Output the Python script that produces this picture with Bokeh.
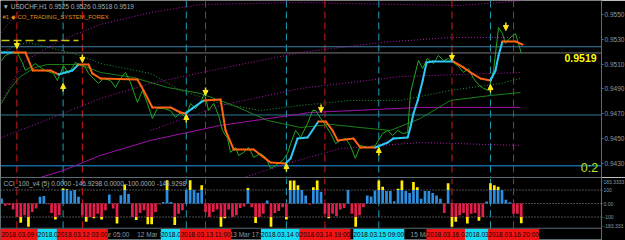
from bokeh.plotting import figure
from bokeh.layouts import column
from bokeh.models import (Range1d, FixedTicker, PrintfTickFormatter, Span, Label,
                          ColumnDataSource, Arrow, NormalHead)
from bokeh.embed import file_html
from bokeh.resources import INLINE

# ---------------- data ----------------
symbol_title = "\u25bc USDCHF,H1  0.9525 0.9526 0.9518 0.9519"
system_title = "#1 \u25c6 CO_TRADING_SYSTEM_FOREX"
cci_title = "CCI_100_v4 (5) 0.0000 -146.9298 0.0000 -100.0000 -146.9298"
last_price = 0.9519
ask_price = 0.9524
hline_prices = [0.9469, 0.9428]
hline_colors = ["#2a7d96", "#1e9be6"]
target_price = 0.9529
target_bars = [0, 20]
score_text = "0:2"
price_ticks = [0.9430, 0.9450, 0.9470, 0.9490, 0.9510, 0.9530, 0.9550]
cci_max, cci_min = 183.3333, -183.3333
cci_tick_labels = ["183.3333", "100", "0.00", "-100", "-183.333"]
cci_levels = [100, 0, -100]

sell_bars = [4, 21, 53, 84, 117, 133]
sell_times = ["2018.03.09 08:00", "2018.03.12 03:00", "2018.03.13 11:00",
              "2018.03.14 19:00", "2018.03.16 04:00", "2018.03.16 20:00"]
buy_bars = [16, 48, 74, 98, 127]
buy_times = ["2018.03.09 20:00", "2018.03.13 06:00", "2018.03.14 08:00",
             "2018.03.15 09:00", "2018.03.16 14:00"]
time_tick_bars = [23, 35, 59, 106]
time_tick_labels = ["12 Mar 05:00", "12 Mar 17:00", "13 Mar 17:00", "15 Mar 16:00"]

down_arrow_bars = [4, 21, 53, 83, 117, 131]
down_arrow_prices = [0.95258, 0.95146, 0.94880, 0.94743, 0.95162, 0.95403]
up_arrow_bars = [16, 48, 74, 98, 127]
up_arrow_prices = [0.94912, 0.94662, 0.94267, 0.94396, 0.94904]

cci = [37, -17, -12, -45, -100, -143, -87, -172, -62, -37,
       50, 55, -5, -70, -118, -87, 112, 105, 95, 100,
       50, -87, -135, -100, -110, -75, -118, -50, 67, -37,
       -148, 62, 140, 70, -100, -123, -70, -50, -153, -153,
       -62, -5, 12, 173, 12, -160, -75, -50, 100, 173,
       100, 80, 135, -62, -100, -62, -45, -172, -110, -45,
       -100, -87, -33, -22, 115, -27, -145, -100, -75, 22,
       -172, -70, -55, -27, -118, 170, 170, 135, 100, 60,
       -7, 120, 170, 87, -75, -110, -75, -95, -45, -33,
       100, -75, -172, -87, -25, 60, 52, 97, 170, 125,
       92, 92, 17, 110, 170, 92, 77, 160, 120, 35,
       92, 92, 77, 60, 35, -70, 150, -172, -135, -87,
       -70, -148, -75, -70, -127, -100, 15, 150, 135, 125,
       100, 27, 10, -75, -75, -146.93]

close_bar = [
    0.0, 1.0, 2.9, 4.2, 5.5, 6.2, 7.5, 8.8, 10.1, 11.4,
    13.5, 14.5, 15.3, 16.1, 17.4, 18.4, 19.2, 20.5, 21.8, 22.6,
    23.9, 25.2, 26.5, 28.3, 29.6, 30.9, 32.2, 33.5, 35.3, 36.6,
    37.9, 39.2, 40.5, 42.1, 43.9, 45.2, 46.5, 47.8, 49.1, 50.4,
    51.7, 52.7, 53.8, 55.1, 56.4, 57.4, 58.7, 59.5, 60.8, 61.6,
    62.9, 64.2, 65.5, 67.3, 68.6, 69.9, 71.2, 73.0, 74.3, 75.1,
    76.4, 77.7, 79.5, 80.8, 81.6, 82.9, 84.2, 85.5, 86.8, 88.1,
    89.4, 90.6, 91.9, 93.2, 95.3, 97.1, 99.0, 100.3, 101.6, 102.9,
    104.2, 105.5, 106.2, 107.0, 108.3, 109.4, 110.6, 112.2, 113.5, 114.8,
    116.1, 117.4, 118.7, 120.0, 121.3, 122.6, 123.9, 125.2, 126.5, 127.8,
    129.1, 130.1, 130.9, 132.2, 133.5, 135.0]
close_price = [
    0.95129, 0.95170, 0.95194, 0.95186, 0.95105, 0.95049, 0.95073, 0.95105, 0.95073, 0.95049,
    0.95025, 0.94968, 0.95025, 0.95089, 0.95025, 0.95073, 0.95113, 0.95089, 0.95073, 0.95025,
    0.94984, 0.94944, 0.94984, 0.94968, 0.94912, 0.94984, 0.95033, 0.94952, 0.94791, 0.94888,
    0.94783, 0.94662, 0.94743, 0.94743, 0.94726, 0.94670, 0.94710, 0.94670, 0.94783, 0.94743,
    0.94791, 0.94863, 0.94726, 0.94783, 0.94686, 0.94565, 0.94501, 0.94388, 0.94428, 0.94364,
    0.94388, 0.94428, 0.94348, 0.94380, 0.94348, 0.94259, 0.94283, 0.94323, 0.94380, 0.94460,
    0.94565, 0.94509, 0.94622, 0.94726, 0.94726, 0.94662, 0.94606, 0.94541, 0.94460, 0.94485,
    0.94501, 0.94444, 0.94340, 0.94444, 0.94428, 0.94444, 0.94541, 0.94565, 0.94525, 0.94565,
    0.94541, 0.94549, 0.94863, 0.94968, 0.95129, 0.95065, 0.95146, 0.95105, 0.95170, 0.95129,
    0.95146, 0.95113, 0.95081, 0.95033, 0.95065, 0.94984, 0.94936, 0.94904, 0.94888, 0.95049,
    0.95395, 0.95347, 0.95266, 0.95315, 0.95347, 0.95190]

trend_bar = [0, 3.1, 6.2, 8.1, 12.7, 14.8, 16.6, 18.4, 20.0, 22.6,
             23.6, 25.7, 35.3, 36.9, 39.2, 43.9, 46.5, 47.8, 49.6, 51.7,
             52.7, 56.9, 58.2, 60.3, 65.5, 67.8, 69.9, 73.8, 75.1, 76.9,
             79.5, 82.3, 84.2, 86.0, 87.3, 91.4, 93.2, 97.1, 100.3, 101.8,
             105.5, 106.2, 107.0, 108.1, 109.4, 110.4, 112.0, 117.4, 120.0, 121.8,
             124.4, 127.0, 128.3, 129.1, 130.1, 133.5, 135.3]
trend_price = [0.95194, 0.95194, 0.95194, 0.95049, 0.95049, 0.95017, 0.95033, 0.95049, 0.95097, 0.95097,
               0.95025, 0.94984, 0.94976, 0.94888, 0.94751, 0.94751, 0.94710, 0.94702, 0.94743, 0.94791,
               0.94807, 0.94815, 0.94565, 0.94412, 0.94412, 0.94356, 0.94307, 0.94299, 0.94340, 0.94501,
               0.94509, 0.94638, 0.94638, 0.94565, 0.94485, 0.94501, 0.94428, 0.94428, 0.94468, 0.94501,
               0.94509, 0.94589, 0.94702, 0.94807, 0.94968, 0.95113, 0.95121, 0.95121, 0.95073, 0.95033,
               0.94984, 0.94968, 0.95049, 0.95170, 0.95283, 0.95283, 0.95258]
trend_dir = list("UUDDDDUUUDDDDDDDDDUUUDDDDDDDUUUUDDDDDDUUUUUUUUUUDDDDUUUDD")[:57]

fast_ma_bar = [0, 2.3, 4.9, 8.8, 11.9, 20.5, 25.7, 34.3, 43.1, 51.7,
               60.3, 69.1, 77.7, 85.5, 93.2, 101.0, 108.8, 116.6, 127.0, 134.8]
fast_ma_price = [0.94783, 0.94904, 0.95000, 0.95073, 0.95097, 0.95097, 0.95033, 0.94992, 0.94912, 0.94863,
                 0.94767, 0.94646, 0.94589, 0.94614, 0.94589, 0.94565, 0.94662, 0.94807, 0.94847, 0.94871]
upper_green_bar = [0, 3.6, 6.8, 11.4, 20.5, 25.7, 38.7, 46.5, 56.9, 67.3, 77.7, 90.6, 103.6, 116.6, 129.6, 134.8]
upper_green_price = [0.95186, 0.95250, 0.95274, 0.95242, 0.95170, 0.95105, 0.95025, 0.94888, 0.94783,
                     0.94726, 0.94767, 0.94807, 0.94807, 0.94888, 0.94944, 0.94984]

slow_ma_bar = [7.5, 16.1, 25.7, 38.7, 56.9, 80.3, 108.8, 134.8]
slow_ma_price = [0.94162, 0.94243, 0.94364, 0.94485, 0.94606, 0.94710, 0.94751, 0.94751]
band3_bar = [0, 6.2, 15.3, 25.7, 38.7, 51.7, 77.7, 103.6, 119.2, 129.6, 135]
band3_price = [0.94807, 0.95129, 0.95291, 0.95420, 0.95516, 0.95581, 0.95597, 0.95581, 0.95573, 0.95597, 0.95613]
band2_bar = [0, 12.7, 25.7, 38.7, 56.9, 77.7, 98.4, 116.6, 135]
band2_price = [0.94509, 0.94662, 0.94823, 0.94944, 0.95065, 0.95194, 0.95274, 0.95315, 0.95315]
band1_bar = [38.7, 56.9, 77.7, 103.6, 135]
band1_price = [0.94565, 0.94767, 0.94904, 0.95000, 0.95033]
bandm1_bar = [62.1, 75.1, 88.1, 108.8, 135]
bandm1_price = [0.94178, 0.94307, 0.94420, 0.94468, 0.94444]
band4_bar = [0, 2.9, 6.0, 7.5]
band4_price = [0.95355, 0.95468, 0.95573, 0.95613]

# ---------------- layout constants ----------------
FONT = "Liberation Sans"
X0, X1 = -0.26, 155.84
P0, P1 = 0.94186, 0.95613
TOP_H, BOT_H, FRAME_W = 177, 63, 601
C0, C1 = -274.0, 192.6
cpx = (C1 - C0) / BOT_H
xpx = (X1 - X0) / FRAME_W
AXIS_COL = "#5b6b72"
LBL_COL = "#8c9aa0"
RED, CYAN = "#d81a1a", "#1d9fb4"
ppx = (P1 - P0) / TOP_H
BOX_W = 51


def style_axis(ax, size="6.5px", tick=2):
    ax.major_label_text_font = FONT
    ax.major_label_text_font_size = size
    ax.major_label_text_color = LBL_COL
    ax.major_tick_out = tick
    ax.major_tick_in = 0
    ax.minor_tick_out = 0
    ax.minor_tick_in = 0
    ax.major_tick_line_color = AXIS_COL
    ax.axis_line_color = AXIS_COL
    ax.major_label_standoff = 1


# ---------------- price panel ----------------
top = figure(frame_width=FRAME_W, frame_height=TOP_H, x_range=Range1d(X0, X1), y_range=Range1d(P0, P1),
             output_backend="svg", toolbar_location=None, x_axis_location=None, y_axis_location="right",
             background_fill_color="black", border_fill_color="black", outline_line_color=None,
             min_border=0, min_border_right=24)
top.xgrid.visible = False
top.ygrid.visible = False
ax = top.yaxis[0]
ax.ticker = FixedTicker(ticks=price_ticks)
ax.formatter = PrintfTickFormatter(format="%.4f")
style_axis(ax)

for b in sell_bars:
    top.add_layout(Span(location=b, dimension="height", line_color=RED, line_dash="7 4", line_width=1, level="underlay"))
for b in buy_bars:
    top.add_layout(Span(location=b, dimension="height", line_color=CYAN, line_dash="7 4", line_width=1, level="underlay"))
for pr, col in zip(hline_prices, hline_colors):
    top.add_layout(Span(location=pr, dimension="width", line_color=col, line_width=1, level="underlay"))
top.add_layout(Span(location=ask_price, dimension="width", line_color="#3f7fa8", line_width=1, level="underlay"))
top.add_layout(Span(location=last_price, dimension="width", line_color="#7a7a7a", line_width=1, level="underlay"))

# bands
MAG = "#b015b0"
for bxs, bys in [(band4_bar, band4_price), (band3_bar, band3_price), (band2_bar, band2_price),
                 (band1_bar, band1_price), (bandm1_bar, bandm1_price)]:
    top.line(bxs, bys, line_color=MAG, line_width=1, line_dash="1 2")
top.line(slow_ma_bar, slow_ma_price, line_color="#a010a8", line_width=1)
top.line(upper_green_bar, upper_green_price, line_color="#1f9a3a", line_width=1, line_dash="1 2")
top.line(fast_ma_bar, fast_ma_price, line_color="#1c7f1c", line_width=1)
top.line(close_bar, close_price, line_color="#22a822", line_width=1)

# trend line
seg = ColumnDataSource(dict(
    x0=trend_bar[:-1], y0=trend_price[:-1], x1=trend_bar[1:], y1=trend_price[1:],
    c=["#2ec8f5" if d == "U" else "#ff6410" for d in trend_dir[1:]]))
top.segment("x0", "y0", "x1", "y1", source=seg, line_color="c", line_width=2, line_cap="round")

top.segment(x0=[target_bars[0]], y0=[target_price], x1=[target_bars[1]], y1=[target_price],
            line_color="#c8c814", line_width=1.5, line_dash="8 4")

# arrows
dsrc = ColumnDataSource(dict(x=down_arrow_bars, ys=[p + 4 * ppx for p in down_arrow_prices],
                             ye=[p - 4 * ppx for p in down_arrow_prices]))
usrc = ColumnDataSource(dict(x=up_arrow_bars, ys=[p - 4 * ppx for p in up_arrow_prices],
                             ye=[p + 4 * ppx for p in up_arrow_prices]))
for src in (dsrc, usrc):
    top.add_layout(Arrow(x_start="x", y_start="ys", x_end="x", y_end="ye", source=src,
                         line_color="#ffe81a", line_width=1.5,
                         end=NormalHead(size=5, fill_color="#ffe81a", line_color="#ffe81a")))

# texts
top.add_layout(Label(x=2, y=TOP_H - 6, x_units="screen", y_units="screen", text=symbol_title,
                     text_font=FONT, text_font_size="6.5px", text_color="#a8b0b4", text_baseline="middle"))
top.add_layout(Label(x=2, y=TOP_H - 16, x_units="screen", y_units="screen", text=system_title,
                     text_font=FONT, text_font_size="6px", text_color="#e08a10", text_baseline="middle"))
top.add_layout(Label(x=150.4, y=last_price, y_offset=-1, text=f"{last_price:.4f}", text_font=FONT,
                     text_font_size="10.5px", text_font_style="bold", text_color="#ffff00",
                     text_align="center", text_baseline="top"))
top.add_layout(Label(x=152.7, y=hline_prices[1], y_offset=-2, text=score_text, text_font=FONT,
                     text_font_size="12.5px", text_color="#b4e61e", text_align="center", text_baseline="middle"))
top.add_layout(Label(x=X1, y=ask_price, x_offset=1, text=f"{ask_price:.4f}", text_font=FONT,
                     text_font_size="6.5px", text_color="white", background_fill_color="#3f7fa8",
                     text_baseline="middle"))
top.add_layout(Label(x=X1, y=last_price, x_offset=1, text=f"{last_price:.4f}", text_font=FONT,
                     text_font_size="6.5px", text_color="#d0d0d0", background_fill_color="#555555",
                     text_baseline="middle"))

# ---------------- CCI panel ----------------
bot = figure(frame_width=FRAME_W, frame_height=BOT_H, x_range=top.x_range, y_range=Range1d(C0, C1),
             output_backend="svg", toolbar_location=None, x_axis_location=None, y_axis_location="right",
             background_fill_color="black", border_fill_color="black", outline_line_color=AXIS_COL,
             min_border=0, min_border_right=24)
bot.xgrid.visible = False
bot.ygrid.visible = False
bx = bot.yaxis[0]
# label positions: extreme labels kept inside the panel, as MT4 does
label_pos = [C1 - 4 * cpx, 100, 0, -100, cci_min + 2 * cpx]
bx.ticker = FixedTicker(ticks=label_pos)
bx.major_label_overrides = {t: l for t, l in zip(label_pos, cci_tick_labels)}
style_axis(bx, size="5px", tick=1)

for lv in cci_levels:
    bot.add_layout(Span(location=lv, dimension="width", line_color="#9a9a9a", line_dash="1 2",
                        line_width=1, level="underlay"))
bot.segment(x0=sell_bars, y0=[cci_min] * len(sell_bars), x1=sell_bars, y1=[cci_max] * len(sell_bars),
            line_color=RED, line_dash="7 4")
bot.segment(x0=buy_bars, y0=[cci_min] * len(buy_bars), x1=buy_bars, y1=[cci_max] * len(buy_bars),
            line_color=CYAN, line_dash="7 4")

idx = list(range(len(cci)))
pos = [(i, min(v, 100)) for i, v in zip(idx, cci) if v > 0]
neg = [(i, max(v, -100)) for i, v in zip(idx, cci) if v < 0]
hi = [(i, v) for i, v in zip(idx, cci) if v > 100]
lo = [(i, v) for i, v in zip(idx, cci) if v < -100]
W = 0.7
bot.vbar(x=[a for a, _ in pos], bottom=0, top=[b for _, b in pos], width=W, fill_color="#2b8ee0", line_color=None)
bot.vbar(x=[a for a, _ in neg], top=0, bottom=[b for _, b in neg], width=W, fill_color="#e41e4a", line_color=None)
bot.vbar(x=[a for a, _ in hi], bottom=100, top=[b for _, b in hi], width=W, fill_color="#ffee00", line_color=None)
bot.vbar(x=[a for a, _ in lo], top=-100, bottom=[b for _, b in lo], width=W, fill_color="#ffee00", line_color=None)

bot.add_layout(Label(x=3, y=BOT_H - 6, x_units="screen", y_units="screen", text=cci_title,
                     text_font=FONT, text_font_size="6.5px", text_color="#a8b0b4", text_baseline="middle"))

# time row
bot.add_layout(Span(location=cci_min, dimension="width", line_color=AXIS_COL, line_width=1))
ROW_Y = -229.5
bot.text(x=time_tick_bars, y=[ROW_Y] * len(time_tick_bars), text=time_tick_labels, x_offset=1,
         text_font_size="6.5px", text_color=LBL_COL, text_align="left", text_baseline="middle",
         text_font={"value": FONT})
events = sorted([(b, t, "#f01414") for b, t in zip(sell_bars, sell_times)] +
                [(b, t, "#14dcf5") for b, t in zip(buy_bars, buy_times)])
for b, t, col in events:
    bot.rect(x=[b], y=[ROW_Y], width=BOX_W, height=11, width_units="screen", height_units="screen",
             fill_color=col, line_color=None)
    left_px = (b - X0) / xpx - BOX_W / 2
    if left_px < 0:
        # box runs past the left edge: keep its text inside the picture
        bot.text(x=[X0], y=[ROW_Y], text=[t], x_offset=1, text_font_size="6.5px", text_color="#200000",
                 text_align="left", text_baseline="middle", text_font={"value": FONT})
    else:
        bot.text(x=[b], y=[ROW_Y], text=[t], text_font_size="6.5px", text_color="#200000",
                 text_align="center", text_baseline="middle", text_font={"value": FONT})

layout = column(top, bot, spacing=0)
open("out.html", "w").write(file_html(layout, INLINE))
